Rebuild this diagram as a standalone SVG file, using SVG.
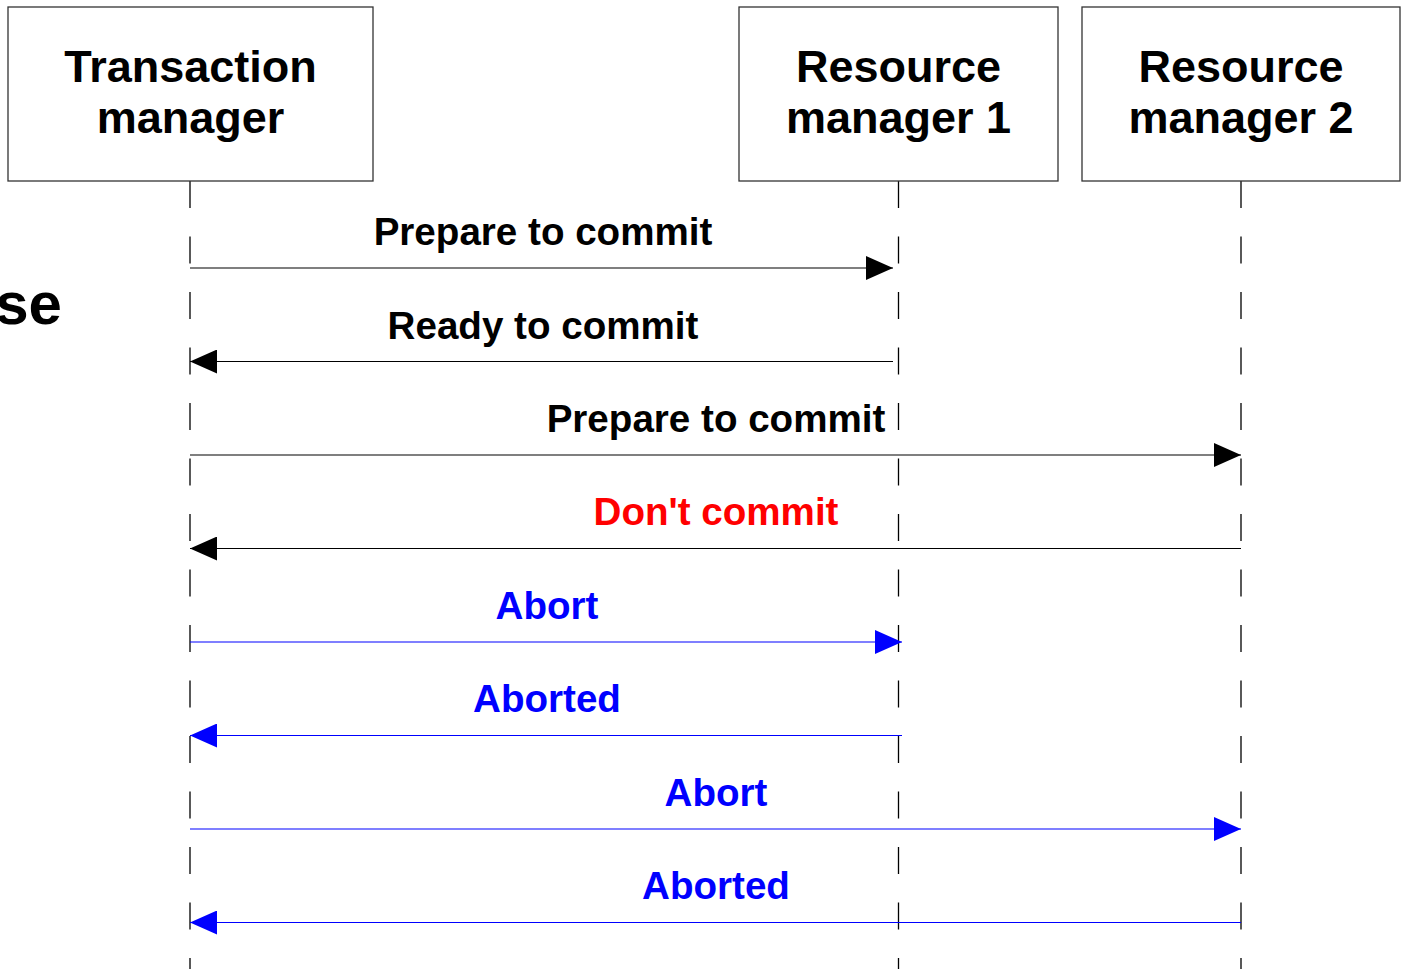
<svg xmlns="http://www.w3.org/2000/svg" width="1403" height="969" viewBox="0 0 1403 969">
  <style>
    .box { fill: #ffffff; stroke: #333333; stroke-width: 1.3; }
    .title { font-family: "Liberation Sans", Arial, sans-serif; font-weight: bold; font-size: 45px; fill: #000000; text-anchor: middle; }
    .label { font-family: "Liberation Sans", Arial, sans-serif; font-weight: bold; font-size: 38.6px; text-anchor: middle; }
    .life { stroke: #000000; stroke-width: 1.3; stroke-dasharray: 27 28.5; fill: none; }
    .msg { stroke-width: 1.2; fill: none; }
    .black { stroke: #000000; }
    .blue { stroke: #0000ff; }
  </style>
  <defs>
    <marker id="headBlack" viewBox="0 0 27 24" refX="27" refY="12" markerWidth="27" markerHeight="24" markerUnits="userSpaceOnUse" orient="auto">
      <path d="M0,0 L27,12 L0,24 Z" fill="#000000"/>
    </marker>
    <marker id="headBlue" viewBox="0 0 27 24" refX="27" refY="12" markerWidth="27" markerHeight="24" markerUnits="userSpaceOnUse" orient="auto">
      <path d="M0,0 L27,12 L0,24 Z" fill="#0000ff"/>
    </marker>
  </defs>
  <rect width="1403" height="969" fill="#ffffff"/>

  <!-- clipped slide heading at the left edge -->
  <text x="62" y="324" font-family="'Liberation Sans', Arial, sans-serif" font-weight="bold" font-size="60" text-anchor="end" fill="#000000">se</text>

  <g id="lifelines">
    <line class="life" x1="190" y1="181" x2="190" y2="969"/>
    <line class="life" x1="898.5" y1="181" x2="898.5" y2="969"/>
    <line class="life" x1="1241" y1="181" x2="1241" y2="969"/>
  </g>

  <g id="transaction-manager">
    <rect class="box" x="8" y="7" width="365" height="174"/>
    <text class="title" x="190.5" y="82">Transaction</text>
    <text class="title" x="190.5" y="133">manager</text>
  </g>
  <g id="resource-manager-1">
    <rect class="box" x="739" y="7" width="319" height="174"/>
    <text class="title" x="898.5" y="82">Resource</text>
    <text class="title" x="898.5" y="133">manager 1</text>
  </g>
  <g id="resource-manager-2">
    <rect class="box" x="1082" y="7" width="318" height="174"/>
    <text class="title" x="1241" y="82">Resource</text>
    <text class="title" x="1241" y="133">manager 2</text>
  </g>

  <g id="connectors">
    <line class="msg black" x1="190" y1="268" x2="893" y2="268" marker-end="url(#headBlack)"/>
    <line class="msg black" x1="893" y1="361.5" x2="190" y2="361.5" marker-end="url(#headBlack)"/>
    <line class="msg black" x1="190" y1="455" x2="1241" y2="455" marker-end="url(#headBlack)"/>
    <line class="msg black" x1="1241" y1="548.5" x2="190" y2="548.5" marker-end="url(#headBlack)"/>
    <line class="msg blue" x1="190" y1="642" x2="902" y2="642" marker-end="url(#headBlue)"/>
    <line class="msg blue" x1="902" y1="735.5" x2="190" y2="735.5" marker-end="url(#headBlue)"/>
    <line class="msg blue" x1="190" y1="829" x2="1241" y2="829" marker-end="url(#headBlue)"/>
    <line class="msg blue" x1="1241" y1="922.5" x2="190" y2="922.5" marker-end="url(#headBlue)"/>
  </g>

  <g id="message-labels">
    <text class="label" x="543" y="245" fill="#000000">Prepare to commit</text>
    <text class="label" x="543" y="339" fill="#000000">Ready to commit</text>
    <text class="label" x="716" y="432" fill="#000000">Prepare to commit</text>
    <text class="label" x="716" y="525" fill="#ff0000">Don't commit</text>
    <text class="label" x="547" y="619" fill="#0000ff">Abort</text>
    <text class="label" x="547" y="712" fill="#0000ff">Aborted</text>
    <text class="label" x="716" y="806" fill="#0000ff">Abort</text>
    <text class="label" x="716" y="899" fill="#0000ff">Aborted</text>
  </g>
</svg>
